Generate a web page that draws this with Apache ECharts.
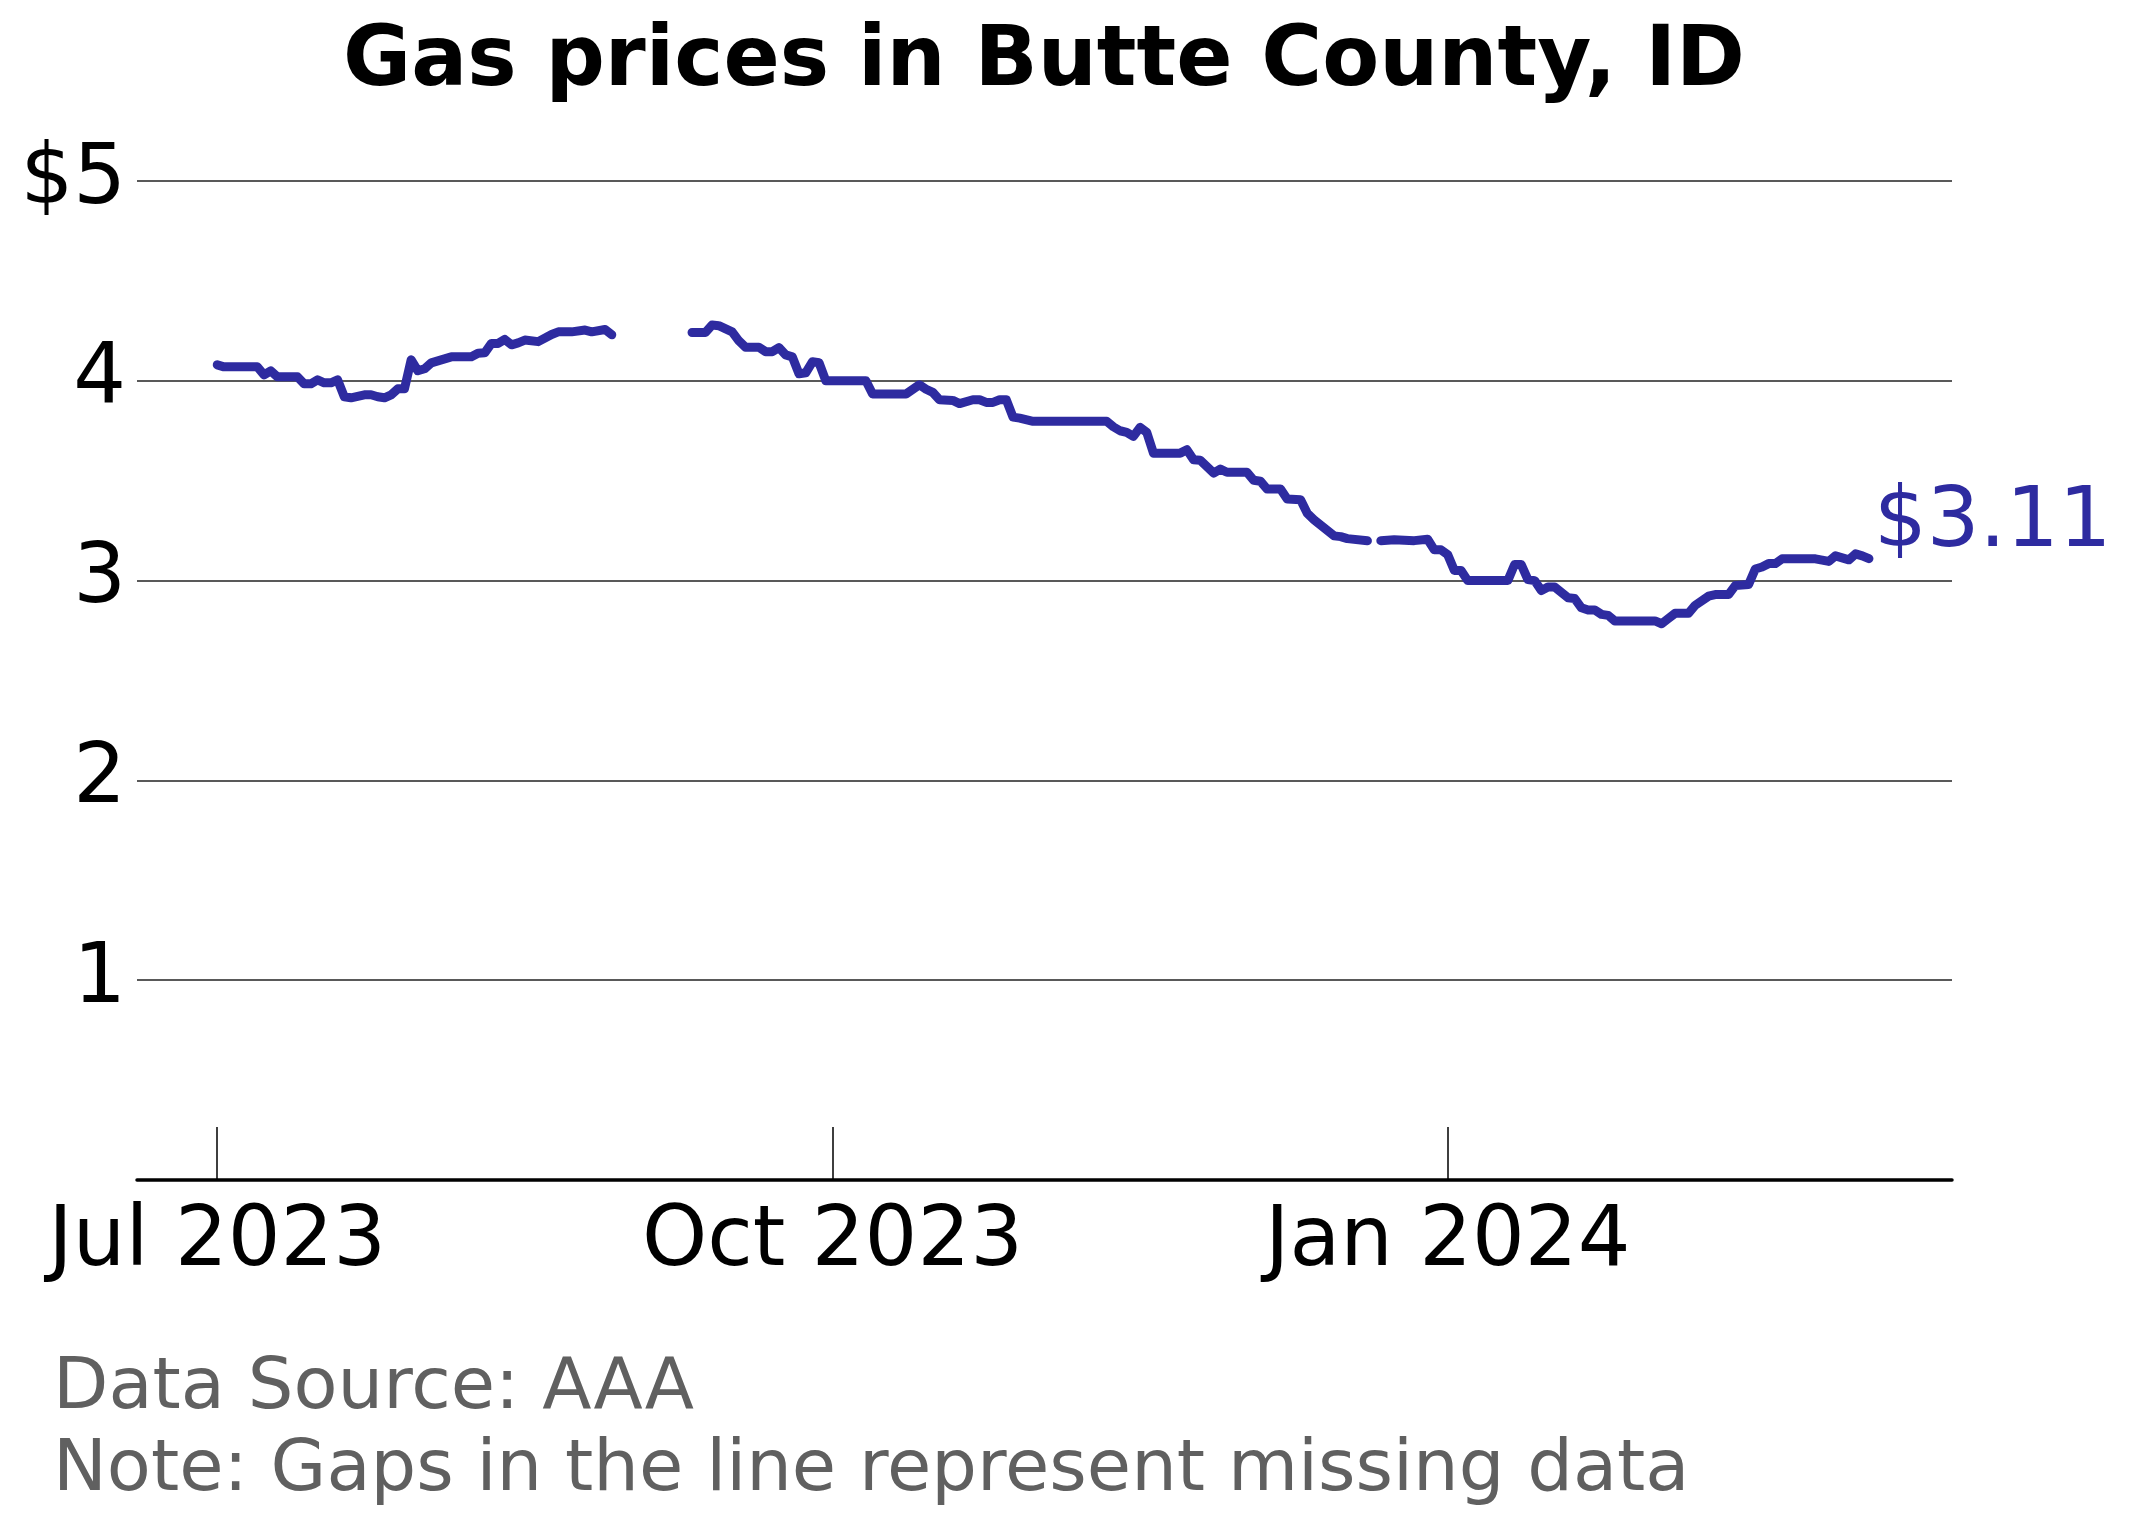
<!DOCTYPE html>
<html>
<head>
<meta charset="utf-8">
<title>Gas prices in Butte County, ID</title>
<script src="https://cdn.jsdelivr.net/npm/echarts@6/dist/echarts.min.js"></script>
<style>
  html, body { margin: 0; padding: 0; background: #fff; }
  #main { width: 2132px; height: 1524px; }
</style>
</head>
<body>
<div id="main"></div>
<script>
// price readings (dates where the line changes direction); null = missing data
var priceDates = [
    '2023-07-01', '2023-07-02', '2023-07-07', '2023-07-08', '2023-07-09', '2023-07-10',
    '2023-07-13', '2023-07-14', '2023-07-15', '2023-07-16', '2023-07-17', '2023-07-18',
    '2023-07-19', '2023-07-20', '2023-07-21', '2023-07-23', '2023-07-24', '2023-07-25',
    '2023-07-26', '2023-07-27', '2023-07-28', '2023-07-29', '2023-07-30', '2023-07-31',
    '2023-08-01', '2023-08-02', '2023-08-03', '2023-08-04', '2023-08-05', '2023-08-08',
    '2023-08-09', '2023-08-10', '2023-08-11', '2023-08-12', '2023-08-13', '2023-08-14',
    '2023-08-15', '2023-08-16', '2023-08-18', '2023-08-20', '2023-08-21', '2023-08-23',
    '2023-08-25', '2023-08-26', '2023-08-28', '2023-08-29', '2023-08-30',
    '2023-09-10', '2023-09-12', '2023-09-13', '2023-09-14', '2023-09-16', '2023-09-17',
    '2023-09-18', '2023-09-20', '2023-09-21', '2023-09-22', '2023-09-23', '2023-09-24',
    '2023-09-25', '2023-09-26', '2023-09-27', '2023-09-28', '2023-09-29', '2023-09-30',
    '2023-10-06', '2023-10-07', '2023-10-12', '2023-10-14', '2023-10-15', '2023-10-16',
    '2023-10-17', '2023-10-19', '2023-10-20', '2023-10-22', '2023-10-23', '2023-10-24',
    '2023-10-25', '2023-10-26', '2023-10-27', '2023-10-28', '2023-10-29', '2023-10-31',
    '2023-11-11', '2023-11-12', '2023-11-13', '2023-11-14', '2023-11-15', '2023-11-16',
    '2023-11-17', '2023-11-18', '2023-11-22', '2023-11-23', '2023-11-24', '2023-11-25',
    '2023-11-27', '2023-11-28', '2023-11-29', '2023-12-02', '2023-12-03', '2023-12-04',
    '2023-12-05', '2023-12-07', '2023-12-08', '2023-12-10', '2023-12-11', '2023-12-12',
    '2023-12-15', '2023-12-16', '2023-12-17', '2023-12-20', '2023-12-21',
    '2023-12-22', '2023-12-24', '2023-12-27', '2023-12-29', '2023-12-30', '2023-12-31',
    '2024-01-01', '2024-01-02', '2024-01-03', '2024-01-04', '2024-01-10', '2024-01-11',
    '2024-01-12', '2024-01-13', '2024-01-14', '2024-01-15', '2024-01-16', '2024-01-17',
    '2024-01-19', '2024-01-20', '2024-01-21', '2024-01-22', '2024-01-23', '2024-01-24',
    '2024-01-25', '2024-01-26', '2024-02-01', '2024-02-02', '2024-02-03', '2024-02-04',
    '2024-02-06', '2024-02-07', '2024-02-09', '2024-02-10', '2024-02-12', '2024-02-13',
    '2024-02-15', '2024-02-16', '2024-02-17', '2024-02-18', '2024-02-19', '2024-02-20',
    '2024-02-25', '2024-02-27', '2024-02-28', '2024-03-01', '2024-03-02', '2024-03-03',
    '2024-03-04'
];
var prices = [
    4.08, 4.07, 4.07, 4.03, 4.05, 4.02,
    4.02, 3.985, 3.985, 4.005, 3.99, 3.99,
    4.005, 3.92, 3.915, 3.93, 3.93, 3.92,
    3.915, 3.93, 3.96, 3.96, 4.105, 4.05,
    4.06, 4.09, 4.10, 4.11, 4.12, 4.12,
    4.138, 4.14, 4.187, 4.187, 4.207, 4.18,
    4.19, 4.204, 4.196, 4.232, 4.245, 4.245,
    4.254, 4.245, 4.257, 4.23, null,
    4.242, 4.242, 4.279, 4.276, 4.245, 4.20,
    4.168, 4.168, 4.146, 4.146, 4.166, 4.13,
    4.12, 4.035, 4.04, 4.095, 4.09, 4.00,
    4.00, 3.934, 3.934, 3.98, 3.958, 3.942,
    3.905, 3.902, 3.886, 3.905, 3.905, 3.892,
    3.892, 3.905, 3.905, 3.818, 3.813, 3.797,
    3.797, 3.77, 3.75, 3.742, 3.722, 3.767,
    3.742, 3.638, 3.638, 3.655, 3.605, 3.602,
    3.538, 3.558, 3.542, 3.542, 3.502, 3.497,
    3.458, 3.458, 3.408, 3.405, 3.337, 3.305,
    3.224, 3.22, 3.21, 3.199, null,
    3.20, 3.204, 3.20, 3.207, 3.154, 3.154,
    3.13, 3.051, 3.051, 3.00, 3.00, 3.08,
    3.08, 3.005, 3.00, 2.95, 2.968, 2.968,
    2.914, 2.91, 2.864, 2.853, 2.853, 2.831,
    2.826, 2.798, 2.798, 2.784, 2.81, 2.836,
    2.836, 2.876, 2.922, 2.93, 2.93, 2.975,
    2.98, 3.058, 3.068, 3.085, 3.085, 3.109,
    3.109, 3.096, 3.124, 3.104, 3.134, 3.124,
    3.11
];

// axis ticks and range
var xTickDates = ['2023-07-01', '2023-10-01', '2024-01-01'];
var xTickLabels = ['Jul 2023', 'Oct 2023', 'Jan 2024'];
var xRange = ['2023-06-19T00:00:00', '2024-03-16T10:00:00'];
var yTickLabels = ['', '1', '2', '3', '4', '$5'];

var lineColor = '#2e2ba0';
var font = 'DejaVu Sans';

function ts(d) {
    return +new Date(d.length > 10 ? d : d + 'T00:00:00');
}
var tickTimes = xTickDates.map(ts);
var seriesData = priceDates.map(function (d, i) {
    return [ts(d), prices[i] === null ? '-' : prices[i]];
});

var chart = echarts.init(document.getElementById('main'));
chart.setOption({
    animation: false,
    backgroundColor: '#fff',
    title: [
        {
            text: 'Gas prices in Butte County, ID',
            left: 1039,
            top: 17,
            textAlign: 'center',
            textStyle: {fontFamily: font, fontWeight: 'bold', fontSize: 83, color: '#000'}
        },
        {
            text: 'Data Source: AAA\nNote: Gaps in the line represent missing data',
            left: 48,
            top: 1343,
            textStyle: {fontFamily: font, fontWeight: 'normal', fontSize: 72, lineHeight: 82, color: '#606060'}
        }
    ],
    grid: {left: 137, right: 180, top: 181, bottom: 344, containLabel: false},
    xAxis: {
        type: 'value',
        min: ts(xRange[0]),
        max: ts(xRange[1]),
        splitLine: {show: false},
        axisLine: {lineStyle: {color: '#000', width: 3.5}},
        axisTick: {
            show: true, inside: true, length: 53,
            customValues: tickTimes,
            lineStyle: {color: '#000', width: 1.5}
        },
        axisLabel: {
            customValues: tickTimes,
            margin: 22,
            fontFamily: font, fontSize: 83, color: '#000',
            formatter: function (v) {
                var i = tickTimes.indexOf(+v);
                return i >= 0 ? xTickLabels[i] : '';
            }
        }
    },
    yAxis: {
        type: 'value',
        min: 0,
        max: 5,
        interval: 1,
        axisLine: {show: false},
        axisTick: {show: false},
        splitLine: {lineStyle: {color: '#222', width: 1.5}},
        axisLabel: {
            margin: 11,
            fontFamily: font, fontSize: 83, color: '#000',
            formatter: function (v) { return yTickLabels[Math.round(v)]; }
        }
    },
    series: [{
        type: 'line',
        data: seriesData,
        showSymbol: false,
        connectNulls: false,
        lineStyle: {color: lineColor, width: 9, cap: 'round', join: 'round'},
        itemStyle: {color: lineColor},
        endLabel: {
            show: true,
            offset: [-3, -34],
            fontFamily: font, fontSize: 83, color: lineColor,
            formatter: function (p) { return '$' + p.value[1].toFixed(2); }
        }
    }]
});
</script>
</body>
</html>
